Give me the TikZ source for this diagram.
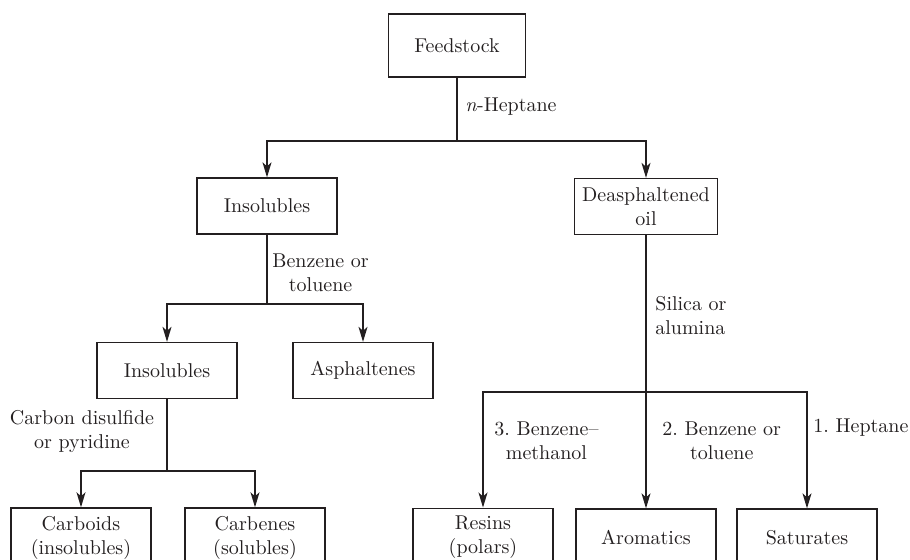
\documentclass[tikz,border=0pt]{standalone}
\usepackage{tikz}
\usetikzlibrary{arrows.meta,positioning}
\usepackage{xcolor}
\definecolor{linegray}{RGB}{35,31,32}
\frenchspacing

\begin{document}
\begin{tikzpicture}[
    x=0.5pt, y=-0.5pt,
    block/.style={draw=linegray, rectangle, minimum width=70pt, minimum height=28pt, inner sep=4pt, align=center, line width=0.65pt, text=linegray},
    lbl/.style={align=center, inner sep=0pt, text=linegray},
    arrow/.style={-{Stealth[length=7.5pt,width=4.5pt,inset=2pt]}, draw=linegray, line width=0.65pt},
    line/.style={draw=linegray, line width=0.65pt}
]
    \useasboundingbox (0,0) rectangle (910,560);
    \clip (0,0) rectangle (910,560);

    \node[block, minimum width=68.5pt, minimum height=31.5pt] (feed) at (457,45.5) {Feedstock};
    \node[block] (ins1) at (267,206) {Insolubles};
    \node[block] (deas) at (646,206.5) {Deasphaltened\\oil};
    \node[block] (ins2) at (167,370.5) {Insolubles};
    \node[block] (asph) at (363,370.5) {Asphaltenes};
    \node[block, minimum height=28.5pt] (carboid) at (81,537.5) {Carboids\\(insolubles)};
    \node[block, minimum height=28.5pt] (carbene) at (255,537.5) {Carbenes\\(solubles)};
    \node[block, minimum height=28.5pt] (resin) at (483,537.5) {Resins\\(polars)};
    \node[block, minimum height=28.5pt] (arom) at (646,537.5) {Aromatics};
    \node[block, minimum height=28.5pt] (sat) at (807,537.5) {Saturates};

    \coordinate (split1) at (457,141);
    \coordinate (split2) at (267,304);
    \coordinate (split3) at (167,471);
    \coordinate (split4) at (646,392);

    \node[lbl, anchor=west] (hept) at (465,107) {\textit{n}-Heptane};
    \node[lbl, anchor=west] (benz1) at (272,273) {Benzene or\\toluene};
    \node[lbl, anchor=west, align=left] (silica) at (655,316) {Silica or\\alumina};
    \node[lbl] (cs2) at (82,432) {Carbon disulfide\\or pyridine};
    \node[lbl, anchor=west] (elu3) at (494,441) {3. Benzene--\\methanol};
    \node[lbl, anchor=west] (elu2) at (662,441) {2. Benzene or\\toluene};
    \node[lbl, anchor=west] (elu1) at (813,428) {1. Heptane};

    \draw[line] (feed) -- (split1);
    \draw[arrow] (split1) -| (ins1);
    \draw[arrow] (split1) -| (deas);

    \draw[line] (ins1) -- (split2);
    \draw[arrow] (split2) -| (ins2);
    \draw[arrow] (split2) -| (asph);

    \draw[line] (ins2) -- (split3);
    \draw[arrow] (split3) -| (carboid);
    \draw[arrow] (split3) -| (carbene);

    \draw[line] (deas) -- (split4);
    \draw[arrow] (split4) -| (resin);
    \draw[arrow] (split4) -- (arom);
    \draw[arrow] (split4) -| (sat);
\end{tikzpicture}
\end{document}
